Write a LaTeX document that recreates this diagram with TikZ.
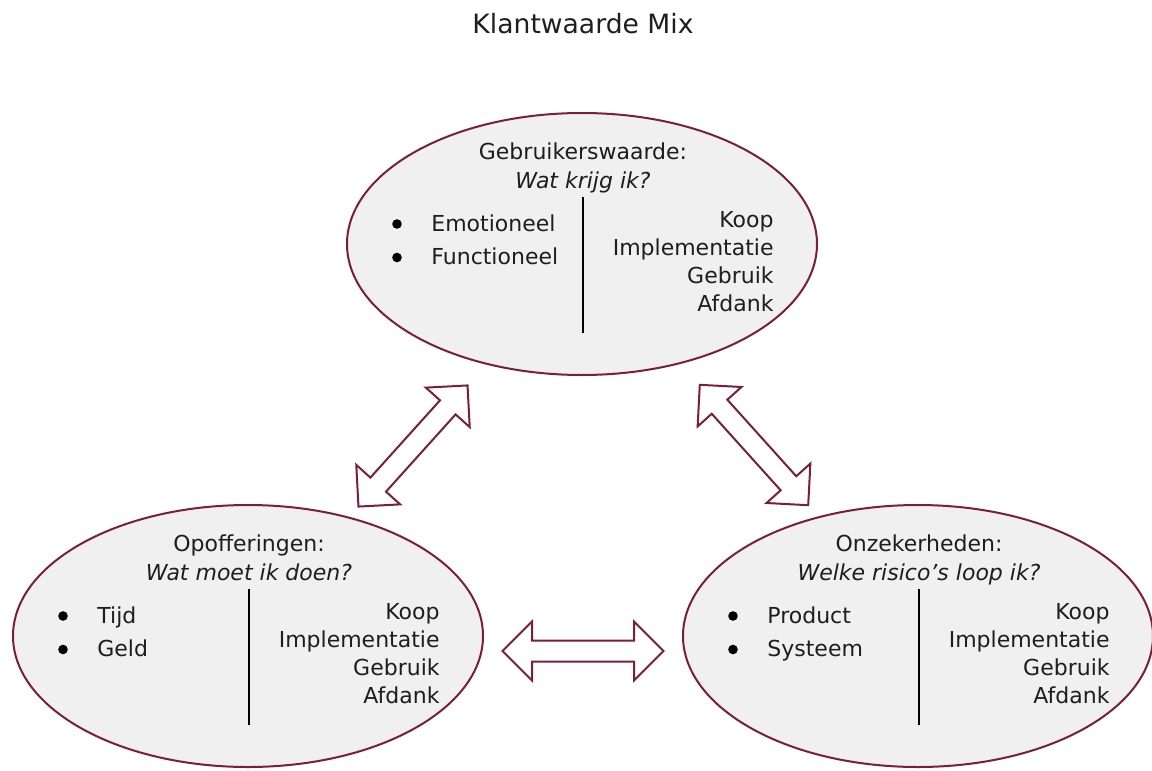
\documentclass[tikz,border=0pt]{standalone}
\usepackage{fontspec}
\setmainfont{DejaVu Sans}
\usetikzlibrary{shapes.geometric,shapes.arrows,calc}
\definecolor{bordeaux}{HTML}{7A1E3C}
\definecolor{wolkgrijs}{HTML}{F0F0F0}
\definecolor{inkt}{HTML}{1E1E1E}

\begin{document}
\begin{tikzpicture}[x=0.5pt, y=-0.5pt,
    wolk/.style={ellipse, draw=bordeaux, line width=1pt, fill=wolkgrijs,
        minimum width=235pt, minimum height=131pt, inner sep=0pt},
    pijl/.style={double arrow, draw=bordeaux, line width=1pt, fill=white,
        inner xsep=0pt, inner ysep=4.75pt, double arrow head extend=9.5pt},
    tekst/.style={inner sep=0pt, text=inkt, font=\fontsize{11}{13}\selectfont},
    kop/.style={tekst, anchor=base},
    bolletje/.style={circle, fill=black, inner sep=0pt, minimum size=4.8pt},
    scheiding/.style={line width=1.4pt, black}
]
\useasboundingbox (0,0) rectangle (1152,771);

\node[tekst, anchor=base, font=\fontsize{13.3}{16}\selectfont] (titel) at (583,33) {Klantwaarde Mix};

% de drie waardes
\node[wolk] (gebruik) at (582,244) {};
\node[wolk] (opoffer) at (248,636) {};
\node[wolk] (onzeker) at (918,636) {};

% dikke pijlen ertussen
\node[pijl, minimum height=81.5pt, rotate=48] (pijl-go) at (413,446) {};
\node[pijl, minimum height=81pt, rotate=-48] (pijl-gz) at (754,445) {};
\node[pijl, minimum height=80.5pt] (pijl-oz) at (583,651) {};

\foreach \naam/\kop/\vraag/\eerste/\tweede in {gebruik/Gebruikerswaarde:/Wat krijg ik?/Emotioneel/Functioneel,
    opoffer/Opofferingen:/Wat moet ik doen?/Tijd/Geld,
    onzeker/Onzekerheden:/Welke risico’s loop ik?/Product/Systeem}{
  \node[kop] (\naam-kop) at ($(\naam)+(1,-85)$) {\kop};
  \node[kop, font=\fontsize{11}{13}\selectfont\itshape] (\naam-vraag) at ($(\naam)+(1,-56)$) {\vraag};
  \draw[scheiding] ($(\naam)+(1,-47)$) -- ($(\naam)+(1,89)$);
  \node[bolletje] (\naam-b1) at ($(\naam)+(-185,-20)$) {};
  \node[bolletje] (\naam-b2) at ($(\naam)+(-185,13.5)$) {};
  \node[tekst, anchor=base west] (\naam-l1) at ($(\naam)+(-151,-13)$) {\eerste};
  \node[tekst, anchor=base west] (\naam-l2) at ($(\naam)+(-151,20)$) {\tweede};
  \foreach \fase [count=\i] in {Koop,Implementatie,Gebruik,Afdank}
    \node[tekst, anchor=base east] (\naam-f\i) at ($(\naam)+(192,{-17+28.3*(\i-1)})$) {\fase};
}
\end{tikzpicture}
\end{document}
